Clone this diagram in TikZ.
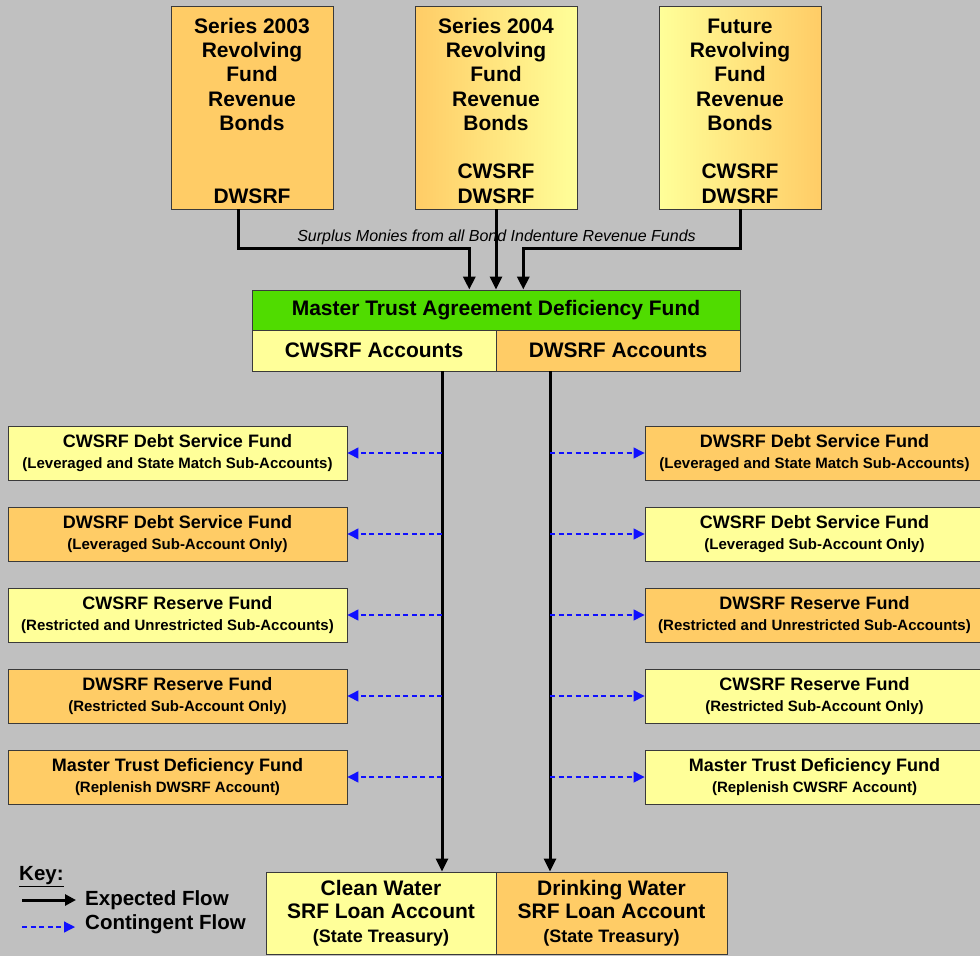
\documentclass[tikz,border=0pt]{standalone}
\usepackage{fontspec}
\setmainfont{Liberation Sans}
\usetikzlibrary{arrows.meta}
\definecolor{bg}{HTML}{C0C0C0}
\definecolor{cyel}{HTML}{FFFF99}
\definecolor{corg}{HTML}{FFCC66}
\definecolor{cgrn}{HTML}{50DC00}
\definecolor{edgec}{HTML}{3A3A3A}
\definecolor{cblue}{HTML}{1010FF}
\newcommand{\twol}[2]{#1\\{\fontsize{15}{20.6}\selectfont #2}}
\newcommand{\topstrut}{\rule{0pt}{21.5pt}}
\begin{document}
\begin{tikzpicture}[x=1pt,y=-1pt,
  box/.style={draw=edgec, line width=0.9pt, inner sep=0pt, align=center},
  topbox/.style={box, minimum width=162pt, minimum height=203pt, font=\bfseries\fontsize{21}{24.3}\selectfont},
  acct/.style={box, minimum width=244pt, minimum height=41pt, font=\bfseries\fontsize{21}{24}\selectfont},
  sidebox/.style={box, minimum width=339pt, minimum height=54pt, font=\bfseries\fontsize{18}{20.6}\selectfont},
  loanbox/.style={box, minimum height=82pt, font=\bfseries\fontsize{21}{23.7}\selectfont},
  flow/.style={line width=3pt, -{Triangle[length=13pt,width=12pt]}},
  contingent/.style={cblue, line width=1.3pt, dash pattern=on 5pt off 3.5pt, -{Triangle[length=11pt,width=11pt]}},
  keytext/.style={anchor=west, inner sep=0pt, font=\bfseries\fontsize{20.5}{24}\selectfont}]
\useasboundingbox (0,0) rectangle (980,956);
\clip (0,0) rectangle (980,956);
\fill[bg] (0,0) rectangle (980,956);

% top bond boxes
\node[topbox, fill=corg] (s03) at (252,107.5) {\topstrut Series 2003\\Revolving\\Fund\\Revenue\\Bonds\\[48.6pt]DWSRF};
\node[topbox, left color=corg, right color=cyel] (s04) at (496,107.5) {\topstrut Series 2004\\Revolving\\Fund\\Revenue\\Bonds\\[24.3pt]CWSRF\\DWSRF};
\node[topbox, left color=cyel, right color=corg] (fut) at (740,107.5) {\topstrut Future\\Revolving\\Fund\\Revenue\\Bonds\\[24.3pt]CWSRF\\DWSRF};

% master trust
\node[box, fill=cgrn, minimum width=488pt, minimum height=40pt, font=\bfseries\fontsize{21}{24}\selectfont] (mt) at (496,310) {Master Trust Agreement Deficiency Fund};
\node[acct, fill=cyel] (cwa) at (374,350.5) {CWSRF Accounts};
\node[acct, fill=corg] (dwa) at (618,350.5) {DWSRF Accounts};

\node[font=\itshape\fontsize{16}{19}\selectfont, inner sep=0pt] (lbl) at (496.5,237.5) {Surplus Monies from all Bond Indenture Revenue Funds};

% connectors from bonds
\coordinate (j0) at (238.3,248.3);
\coordinate (a1) at (469.3,0);
\coordinate (a3) at (523.3,0);
\draw[flow] (s03.south -| j0) -- (j0) -| (mt.north -| a1);
\draw[flow] (s04.south) -- (mt.north);
\draw[flow] (fut.south) -- (fut.south |- j0) -| (mt.north -| a3);

% left boxes
\node[sidebox, fill=cyel] (l1) at (177.5,453) {\twol{CWSRF Debt Service Fund}{(Leveraged and State Match Sub-Accounts)}};
\node[sidebox, fill=corg] (l2) at (177.5,534) {\twol{DWSRF Debt Service Fund}{(Leveraged Sub-Account Only)}};
\node[sidebox, fill=cyel] (l3) at (177.5,615) {\twol{CWSRF Reserve Fund}{(Restricted and Unrestricted Sub-Accounts)}};
\node[sidebox, fill=corg] (l4) at (177.5,696) {\twol{DWSRF Reserve Fund}{(Restricted Sub-Account Only)}};
\node[sidebox, fill=corg] (l5) at (177.5,777) {\twol{Master Trust Deficiency Fund}{(Replenish DWSRF Account)}};

% right boxes
\node[sidebox, fill=corg] (r1) at (814.5,453) {\twol{DWSRF Debt Service Fund}{(Leveraged and State Match Sub-Accounts)}};
\node[sidebox, fill=cyel] (r2) at (814.5,534) {\twol{CWSRF Debt Service Fund}{(Leveraged Sub-Account Only)}};
\node[sidebox, fill=corg] (r3) at (814.5,615) {\twol{DWSRF Reserve Fund}{(Restricted and Unrestricted Sub-Accounts)}};
\node[sidebox, fill=cyel] (r4) at (814.5,696) {\twol{CWSRF Reserve Fund}{(Restricted Sub-Account Only)}};
\node[sidebox, fill=cyel] (r5) at (814.5,777) {\twol{Master Trust Deficiency Fund}{(Replenish CWSRF Account)}};

% loan accounts
\node[loanbox, fill=cyel, minimum width=230pt] (cwl) at (381,913) {Clean Water\\SRF Loan Account\\{\fontsize{18}{23.7}\selectfont (State Treasury)}};
\node[loanbox, fill=corg, minimum width=231pt] (dwl) at (611.5,913) {Drinking Water\\SRF Loan Account\\{\fontsize{18}{23.7}\selectfont (State Treasury)}};

% main vertical flows
\coordinate (xcw) at (442,0);
\coordinate (xdw) at (550,0);
\draw[flow] (cwa.south -| xcw) -- (cwl.north -| xcw);
\draw[flow] (dwa.south -| xdw) -- (dwl.north -| xdw);

% contingent flows
\foreach \n in {1,...,5}{
  \draw[contingent] (xcw |- l\n.east) -- (l\n.east);
  \draw[contingent] (xdw |- r\n.west) -- (r\n.west);
}

% key
\node[keytext] (key) at (19,877) {\underline{Key:}};
\coordinate (k1s) at (22,900);
\coordinate (k1e) at (76,900);
\coordinate (k2s) at (22,927);
\coordinate (k2e) at (75,927);
\draw[flow, -{Triangle[length=11pt,width=11pt]}] (k1s) -- (k1e);
\draw[contingent] (k2s) -- (k2e);
\node[keytext] (exp) at (85,900) {Expected Flow};
\node[keytext] (con) at (85,924) {Contingent Flow};
\end{tikzpicture}
\end{document}
